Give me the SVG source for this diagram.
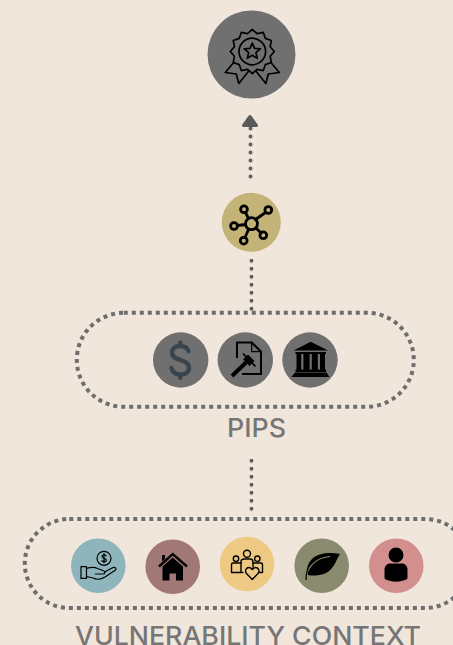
<svg xmlns="http://www.w3.org/2000/svg" width="453" height="645" viewBox="0 0 453 645">
<style>
.lbl{font-family:"Inter","Liberation Sans",sans-serif;font-size:26px;font-weight:500;fill:#767676}
.dot{fill:none;stroke:#5f5f5f;stroke-width:4;stroke-linecap:round;stroke-dasharray:0 8}
.group{fill:none;stroke:#6e6e6e;stroke-width:4;stroke-dasharray:4 4}
.grey{fill:#707070}
.ol{fill:none;stroke:#000;stroke-linejoin:round;stroke-linecap:round}
</style>
<rect width="453" height="645" fill="#f1e6db"/>
<g id="connectors">
<path class="dot" d="M250.500 128.500V177"/>
<path d="M250 116.500L256.500 125.500H243.500Z" fill="#5a5a5a" stroke="#5a5a5a" stroke-width="3" stroke-linejoin="round"/>
<path class="dot" d="M251.500 260.700V309"/>
<path class="dot" d="M251.500 460.700V509"/>
</g>
<g id="outcome">
<circle class="grey" cx="251.500" cy="54.500" r="44"/>
<g class="ol" stroke-width="1.700" transform="translate(252.300 51.500)">
<path d="M0-22L4.790-17.870 11-19.050 13.080-13.080 19.050-11 17.870-4.790 22 0 17.870 4.790 19.050 11 13.080 13.080 11 19.050 4.790 17.870 0 22-4.790 17.870-11 19.050-13.080 13.080-19.050 11-17.870 4.790-22 0-17.870-4.790-19.050-11-13.080-13.080-11-19.050-4.790-17.870Z"/>
<circle r="13.300"/>
<path d="M0-8.500L2.230-3.070 8.080-2.630 3.610 1.170 5 6.880 0 3.800-5 6.880-3.610 1.170-8.080-2.630-2.230-3.070Z"/>
<path d="M-19 11.500L-27 21-16 22.500-13.500 32-4 20"/>
<path d="M19 11.500L27 21 16 22.500 13.500 32 4 20"/>
</g>
</g>
<g id="network">
<circle cx="251.300" cy="222.300" r="29.500" fill="#c4b377"/>
<g class="ol" stroke-width="2.800">
<path d="M248.500 218.500L245.500 212.500M255.500 219.500L265.500 212.500M245.500 224.500L237.500 225.500M248.500 229.500L245 237.500M256 228L261 233"/>
<circle cx="251.500" cy="223.700" r="6"/>
<circle cx="244" cy="209.300" r="3.400"/>
<circle cx="268.300" cy="210" r="3.400"/>
<circle cx="234" cy="226" r="3.400"/>
<circle cx="243.700" cy="240.700" r="3.400"/>
<circle cx="263.300" cy="235.300" r="3.400"/>
</g>
</g>
<g id="pips">
<rect class="group" x="76.800" y="312.800" width="337" height="94" rx="47"/>
<text class="lbl" x="227" y="437" textLength="59" lengthAdjust="spacingAndGlyphs">PIPS</text>
</g>
<g id="pip-money">
<circle class="grey" cx="180.700" cy="360" r="27.700"/>
<path d="M188.500 351C187 347 184 346 180 346 175 346 172 349 172 352.500 172 357 176 358.500 180.500 360 185 361.500 189 363 189 368 189 372 185.500 374.500 180.500 374.500 176 374.500 172.500 372.500 171.500 368M180.300 342.800V346M180.300 374.500V377.800" fill="none" stroke="#39444c" stroke-width="4.400" stroke-linecap="round"/>
</g>
<g id="pip-law">
<circle class="grey" cx="245.300" cy="360" r="27.700"/>
<path d="M237 358V342.500H251.700L261 351.700V374H242" fill="none" stroke="#000" stroke-width="2"/>
<path d="M251.700 342.500V351.700H261" fill="none" stroke="#000" stroke-width="1.200"/>
<path d="M232 376L246 362.500" fill="none" stroke="#000" stroke-width="4"/>
<path d="M245.500 357L252 363.500" fill="none" stroke="#000" stroke-width="7"/>
<path d="M243 353.500L255.500 366.500" fill="none" stroke="#000" stroke-width="1.800"/>
</g>
<g id="pip-institution">
<circle class="grey" cx="310" cy="360" r="27.700"/>
<path d="M310.700 341.700L328 350.500H293.500Z"/>
<path d="M295.500 352H326V354H325V369.500H326V372H295.500V369.500H296.500V354H295.500Z"/>
<path d="M302.300 354V369.500M310.700 354V369.500M318.900 354V369.500" stroke="#707070" stroke-width="2.200"/>
<path d="M295 372.500H326.500L329.500 377H291.500Z"/>
</g>
<g id="vulnerability">
<rect class="group" x="24.800" y="519" width="445" height="89" rx="44.500"/>
<text class="lbl" x="75" y="645" textLength="346" lengthAdjust="spacingAndGlyphs">VULNERABILITY CONTEXT</text>
</g>
<g id="v-finance">
<circle cx="98.300" cy="565.700" r="27.300" fill="#8fb5bc"/>
<g class="ol" stroke-width="1.200">
<circle cx="104" cy="558.300" r="7"/>
<path d="M106.300 555.800C105 554.500 102 554.500 102 556.500 102 558.500 106.300 558 106.300 560.200 106.300 562 103 562 101.700 560.800M104 553.500V563"/>
<rect x="81" y="566.700" width="5.500" height="11.700"/>
<path d="M86.500 568.500C91 567 94 566.500 97.500 568.500L103 570.500C106 571.500 105.500 574 102.500 574H95.500M104.500 572L112 568C115 566.500 117 568.500 115.500 570L105 577C101 579.500 97 580 93 578L86.500 576.500"/>
</g>
</g>
<g id="v-housing">
<circle cx="172.700" cy="566.700" r="27.300" fill="#a27876"/>
<path d="M159 566.500L172.700 554 187 566.500" fill="none" stroke="#000" stroke-width="2.400"/>
<path d="M162 555H165V559L162 561.500Z"/>
<path d="M172.700 557.500L183 566.500V580.500H176V573.500H169.500V580.500H162.500V566.500Z"/>
</g>
<g id="v-social">
<circle cx="247" cy="564" r="27.300" fill="#eec984"/>
<g class="ol" stroke-width="1.400">
<circle cx="236" cy="558.700" r="2.700"/>
<circle cx="247" cy="553.700" r="3.500"/>
<circle cx="257.300" cy="558.700" r="2.700"/>
<path d="M241 563H233C232 563 231.500 564 231.500 565V572.500H243"/>
<path d="M241 572V562C241 560 242.500 559 244 559H250C252 559 253 560 253 562V567"/>
<path d="M253 563H261C262 563 262.500 564 262.500 565V572.500H259"/>
<path d="M252.300 579.500L246.500 573.500C244.500 571 246 567.500 249 567.500 250.500 567.500 251.500 568.500 252.300 569.500 253 568.500 254 567.500 255.500 567.500 258.500 567.500 260 571 258 573.500Z" fill="#eec984"/>
</g>
</g>
<g id="v-environment">
<circle cx="321.700" cy="565.700" r="27.300" fill="#8a8b6e"/>
<path d="M340 554C330 552 318 553 312 559 307 564 306 571 308 575 313 576 323 576 329 571 335 566 336 560 340 554Z"/>
<path d="M306 580C306 570 313 558 330 556.500" fill="none" stroke="#8a8b6e" stroke-width="1.200"/>
<path d="M306 580C306 576 306.500 572 308 568" fill="none" stroke="#000" stroke-width="1.200"/>
</g>
<g id="v-individual">
<circle cx="396.300" cy="565.700" r="27.300" fill="#d38e8e"/>
<circle cx="396" cy="555" r="7.500"/>
<path d="M390 563.500H402C405 563.500 407.500 566 407.500 570V578C407.500 580 400 581.700 396 581.700 392 581.700 384.500 580 384.500 578V570C384.500 566 387 563.500 390 563.500Z"/>
</g>
</svg>
